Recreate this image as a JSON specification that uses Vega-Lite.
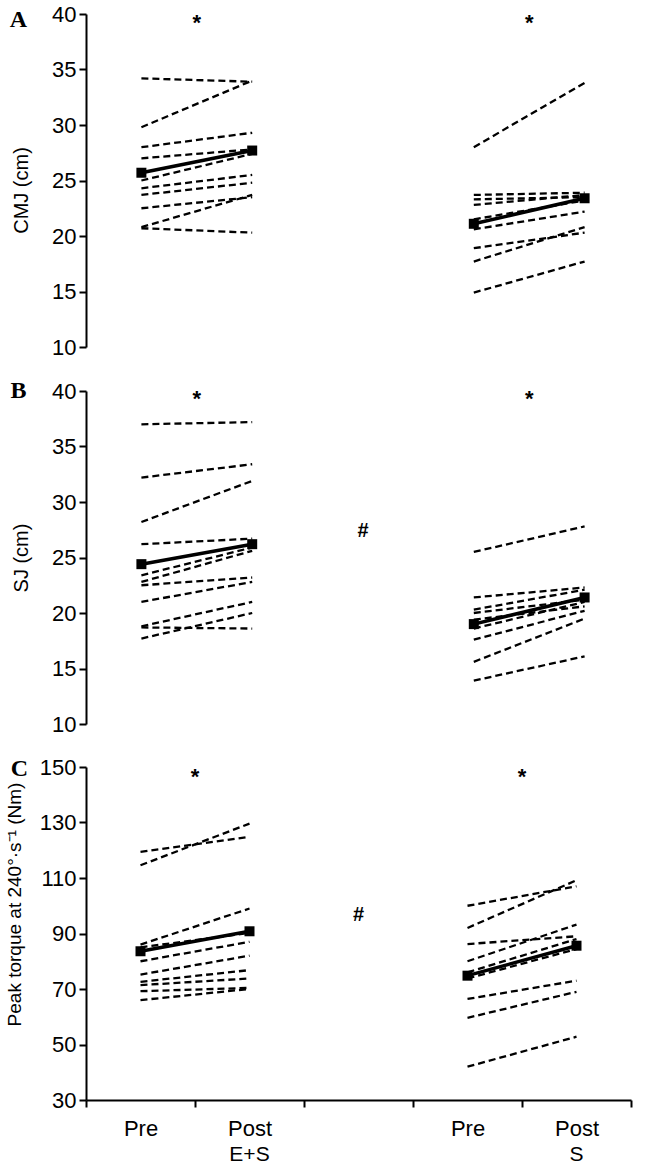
{
"$schema": "https://vega.github.io/schema/vega-lite/v6.json",
"background": "white",
"padding": {"left": 5, "top": 3, "right": 0, "bottom": 0},
"spacing": 21,
"datasets": {
"subj": [
{"p":"A","s":"e1","c":"E+S Pre","v":34.2},{"p":"A","s":"e1","c":"E+S Post","v":33.9},
{"p":"A","s":"e2","c":"E+S Pre","v":29.8},{"p":"A","s":"e2","c":"E+S Post","v":34.0},
{"p":"A","s":"e3","c":"E+S Pre","v":28.0},{"p":"A","s":"e3","c":"E+S Post","v":29.3},
{"p":"A","s":"e4","c":"E+S Pre","v":27.0},{"p":"A","s":"e4","c":"E+S Post","v":27.8},
{"p":"A","s":"e5","c":"E+S Pre","v":25.0},{"p":"A","s":"e5","c":"E+S Post","v":27.4},
{"p":"A","s":"e6","c":"E+S Pre","v":24.3},{"p":"A","s":"e6","c":"E+S Post","v":25.5},
{"p":"A","s":"e7","c":"E+S Pre","v":23.7},{"p":"A","s":"e7","c":"E+S Post","v":24.8},
{"p":"A","s":"e8","c":"E+S Pre","v":22.5},{"p":"A","s":"e8","c":"E+S Post","v":23.5},
{"p":"A","s":"e9","c":"E+S Pre","v":20.8},{"p":"A","s":"e9","c":"E+S Post","v":23.7},
{"p":"A","s":"e10","c":"E+S Pre","v":20.7},{"p":"A","s":"e10","c":"E+S Post","v":20.3},
{"p":"A","s":"s1","c":"S Pre","v":28.0},{"p":"A","s":"s1","c":"S Post","v":33.8},
{"p":"A","s":"s2","c":"S Pre","v":23.7},{"p":"A","s":"s2","c":"S Post","v":23.9},
{"p":"A","s":"s3","c":"S Pre","v":23.3},{"p":"A","s":"s3","c":"S Post","v":23.5},
{"p":"A","s":"s4","c":"S Pre","v":22.8},{"p":"A","s":"s4","c":"S Post","v":23.7},
{"p":"A","s":"s5","c":"S Pre","v":21.5},{"p":"A","s":"s5","c":"S Post","v":23.2},
{"p":"A","s":"s6","c":"S Pre","v":20.6},{"p":"A","s":"s6","c":"S Post","v":22.2},
{"p":"A","s":"s7","c":"S Pre","v":18.9},{"p":"A","s":"s7","c":"S Post","v":20.3},
{"p":"A","s":"s8","c":"S Pre","v":17.7},{"p":"A","s":"s8","c":"S Post","v":20.8},
{"p":"A","s":"s9","c":"S Pre","v":14.9},{"p":"A","s":"s9","c":"S Post","v":17.7},
{"p":"B","s":"e1","c":"E+S Pre","v":37.0},{"p":"B","s":"e1","c":"E+S Post","v":37.2},
{"p":"B","s":"e2","c":"E+S Pre","v":32.2},{"p":"B","s":"e2","c":"E+S Post","v":33.4},
{"p":"B","s":"e3","c":"E+S Pre","v":28.2},{"p":"B","s":"e3","c":"E+S Post","v":31.9},
{"p":"B","s":"e4","c":"E+S Pre","v":26.2},{"p":"B","s":"e4","c":"E+S Post","v":26.7},
{"p":"B","s":"e5","c":"E+S Pre","v":23.4},{"p":"B","s":"e5","c":"E+S Post","v":25.9},
{"p":"B","s":"e6","c":"E+S Pre","v":22.8},{"p":"B","s":"e6","c":"E+S Post","v":25.6},
{"p":"B","s":"e7","c":"E+S Pre","v":22.5},{"p":"B","s":"e7","c":"E+S Post","v":23.2},
{"p":"B","s":"e8","c":"E+S Pre","v":21.0},{"p":"B","s":"e8","c":"E+S Post","v":22.8},
{"p":"B","s":"e9","c":"E+S Pre","v":18.8},{"p":"B","s":"e9","c":"E+S Post","v":21.0},
{"p":"B","s":"e10","c":"E+S Pre","v":18.7},{"p":"B","s":"e10","c":"E+S Post","v":18.6},
{"p":"B","s":"e11","c":"E+S Pre","v":17.7},{"p":"B","s":"e11","c":"E+S Post","v":20.0},
{"p":"B","s":"s1","c":"S Pre","v":25.5},{"p":"B","s":"s1","c":"S Post","v":27.8},
{"p":"B","s":"s2","c":"S Pre","v":21.4},{"p":"B","s":"s2","c":"S Post","v":22.3},
{"p":"B","s":"s3","c":"S Pre","v":20.3},{"p":"B","s":"s3","c":"S Post","v":22.1},
{"p":"B","s":"s4","c":"S Pre","v":20.0},{"p":"B","s":"s4","c":"S Post","v":21.2},
{"p":"B","s":"s5","c":"S Pre","v":19.4},{"p":"B","s":"s5","c":"S Post","v":20.6},
{"p":"B","s":"s6","c":"S Pre","v":18.6},{"p":"B","s":"s6","c":"S Post","v":21.0},
{"p":"B","s":"s7","c":"S Pre","v":17.6},{"p":"B","s":"s7","c":"S Post","v":20.2},
{"p":"B","s":"s8","c":"S Pre","v":15.6},{"p":"B","s":"s8","c":"S Post","v":19.5},
{"p":"B","s":"s9","c":"S Pre","v":13.9},{"p":"B","s":"s9","c":"S Post","v":16.1},
{"p":"C","s":"e1","c":"E+S Pre","v":119.4},{"p":"C","s":"e1","c":"E+S Post","v":124.8},
{"p":"C","s":"e2","c":"E+S Pre","v":114.6},{"p":"C","s":"e2","c":"E+S Post","v":129.6},
{"p":"C","s":"e3","c":"E+S Pre","v":86.0},{"p":"C","s":"e3","c":"E+S Post","v":99.0},
{"p":"C","s":"e4","c":"E+S Pre","v":85.0},{"p":"C","s":"e4","c":"E+S Post","v":90.2},
{"p":"C","s":"e5","c":"E+S Pre","v":80.0},{"p":"C","s":"e5","c":"E+S Post","v":87.0},
{"p":"C","s":"e6","c":"E+S Pre","v":75.2},{"p":"C","s":"e6","c":"E+S Post","v":82.0},
{"p":"C","s":"e7","c":"E+S Pre","v":72.6},{"p":"C","s":"e7","c":"E+S Post","v":76.8},
{"p":"C","s":"e8","c":"E+S Pre","v":71.4},{"p":"C","s":"e8","c":"E+S Post","v":73.8},
{"p":"C","s":"e9","c":"E+S Pre","v":69.2},{"p":"C","s":"e9","c":"E+S Post","v":70.4},
{"p":"C","s":"e10","c":"E+S Pre","v":66.0},{"p":"C","s":"e10","c":"E+S Post","v":70.0},
{"p":"C","s":"s1","c":"S Pre","v":100.0},{"p":"C","s":"s1","c":"S Post","v":107.0},
{"p":"C","s":"s2","c":"S Pre","v":92.0},{"p":"C","s":"s2","c":"S Post","v":109.2},
{"p":"C","s":"s3","c":"S Pre","v":86.2},{"p":"C","s":"s3","c":"S Post","v":89.0},
{"p":"C","s":"s4","c":"S Pre","v":80.0},{"p":"C","s":"s4","c":"S Post","v":93.2},
{"p":"C","s":"s5","c":"S Pre","v":76.0},{"p":"C","s":"s5","c":"S Post","v":88.0},
{"p":"C","s":"s6","c":"S Pre","v":73.8},{"p":"C","s":"s6","c":"S Post","v":84.4},
{"p":"C","s":"s7","c":"S Pre","v":66.4},{"p":"C","s":"s7","c":"S Post","v":73.0},
{"p":"C","s":"s8","c":"S Pre","v":59.6},{"p":"C","s":"s8","c":"S Post","v":69.0},
{"p":"C","s":"s9","c":"S Pre","v":42.0},{"p":"C","s":"s9","c":"S Post","v":52.8}
],
"means": [
{"p":"A","g":"E+S","c":"E+S Pre","v":25.7},{"p":"A","g":"E+S","c":"E+S Post","v":27.7},
{"p":"A","g":"S","c":"S Pre","v":21.1},{"p":"A","g":"S","c":"S Post","v":23.4},
{"p":"B","g":"E+S","c":"E+S Pre","v":24.4},{"p":"B","g":"E+S","c":"E+S Post","v":26.2},
{"p":"B","g":"S","c":"S Pre","v":19.0},{"p":"B","g":"S","c":"S Post","v":21.4},
{"p":"C","g":"E+S","c":"E+S Pre","v":83.6},{"p":"C","g":"E+S","c":"E+S Post","v":90.8},
{"p":"C","g":"S","c":"S Pre","v":74.8},{"p":"C","g":"S","c":"S Post","v":85.6}
],
"notes": [
{"p":"A","k":"star","c":"E+S Post","t":"*","v":39.2},
{"p":"A","k":"star","c":"S Post","t":"*","v":39.2},
{"p":"A","k":"letter","c":"E+S Pre","t":"A","v":39.5},
{"p":"B","k":"star","c":"E+S Post","t":"*","v":39.3},
{"p":"B","k":"star","c":"S Post","t":"*","v":39.3},
{"p":"B","k":"hash","c":"gap","t":"#","v":27.4},
{"p":"B","k":"letter","c":"E+S Pre","t":"B","v":40.0},
{"p":"C","k":"star","c":"E+S Post","t":"*","v":146.4},
{"p":"C","k":"star","c":"S Post","t":"*","v":146.4},
{"p":"C","k":"hash","c":"gap","t":"#","v":96.7},
{"p":"C","k":"letter","c":"E+S Pre","t":"C","v":149.3}
]
},
"vconcat": [
{
"width": 554, "height": 333,
"encoding": {"y": {"field": "v", "type": "quantitative", "scale": {"domain": [10, 40], "nice": false, "zero": false}, "axis": {"values": [10,15,20,25,30,35,40], "title": "CMJ (cm)", "titlePadding": 20, "titleY": 176}}},
"layer": [
{"data": {"name": "subj"}, "transform": [{"filter": "datum.p==='A'"}],
 "mark": {"type": "line", "color": "black", "strokeWidth": 2.3, "strokeDash": [7,4]},
 "encoding": {"x": {"field": "c", "type": "nominal", "bandPosition": 0.5, "scale": {"type": "band", "domain": ["E+S Pre","E+S Post","gap","S Pre","S Post"], "paddingInner": 0, "paddingOuter": 0}, "axis": {"title": null, "labels": false, "tickBand": "extent"}}, "detail": {"field": "s"}}},
{"data": {"name": "means"}, "transform": [{"filter": "datum.p==='A'"}],
 "mark": {"type": "line", "color": "black", "strokeWidth": 3.5},
 "encoding": {"x": {"field": "c", "type": "nominal", "bandPosition": 0.5, "axis": null}, "detail": {"field": "g"}}},
{"data": {"name": "means"}, "transform": [{"filter": "datum.p==='A'"}],
 "mark": {"type": "square", "color": "black", "size": 100, "opacity": 1},
 "encoding": {"x": {"field": "c", "type": "nominal", "bandPosition": 0.5, "axis": null}}},
{"data": {"name": "notes"}, "transform": [{"filter": "datum.p==='A' && datum.k==='star'"}],
 "mark": {"type": "text", "font": "Liberation Sans", "fontSize": 22, "fontWeight": "bold", "baseline": "middle", "color": "black"},
 "encoding": {"x": {"field": "c", "type": "nominal", "bandPosition": 0, "axis": null}, "text": {"field": "t"}}},
{"data": {"name": "notes"}, "transform": [{"filter": "datum.p==='A' && datum.k==='letter'"}],
 "mark": {"type": "text", "font": "Liberation Serif", "fontWeight": "bold", "fontSize": 24, "baseline": "middle", "color": "black"},
 "encoding": {"x": {"field": "c", "type": "nominal", "bandPosition": -0.61, "axis": null}, "text": {"field": "t"}}}
]
},
{
"width": 554, "height": 333,
"encoding": {"y": {"field": "v", "type": "quantitative", "scale": {"domain": [10, 40], "nice": false, "zero": false}, "axis": {"values": [10,15,20,25,30,35,40], "title": "SJ (cm)", "titlePadding": 20}}},
"layer": [
{"data": {"name": "subj"}, "transform": [{"filter": "datum.p==='B'"}],
 "mark": {"type": "line", "color": "black", "strokeWidth": 2.3, "strokeDash": [7,4]},
 "encoding": {"x": {"field": "c", "type": "nominal", "bandPosition": 0.5, "scale": {"type": "band", "domain": ["E+S Pre","E+S Post","gap","S Pre","S Post"], "paddingInner": 0, "paddingOuter": 0}, "axis": {"title": null, "labels": false, "tickBand": "extent"}}, "detail": {"field": "s"}}},
{"data": {"name": "means"}, "transform": [{"filter": "datum.p==='B'"}],
 "mark": {"type": "line", "color": "black", "strokeWidth": 3.5},
 "encoding": {"x": {"field": "c", "type": "nominal", "bandPosition": 0.5, "axis": null}, "detail": {"field": "g"}}},
{"data": {"name": "means"}, "transform": [{"filter": "datum.p==='B'"}],
 "mark": {"type": "square", "color": "black", "size": 100, "opacity": 1},
 "encoding": {"x": {"field": "c", "type": "nominal", "bandPosition": 0.5, "axis": null}}},
{"data": {"name": "notes"}, "transform": [{"filter": "datum.p==='B' && datum.k==='star'"}],
 "mark": {"type": "text", "font": "Liberation Sans", "fontSize": 22, "fontWeight": "bold", "baseline": "middle", "color": "black"},
 "encoding": {"x": {"field": "c", "type": "nominal", "bandPosition": 0, "axis": null}, "text": {"field": "t"}}},
{"data": {"name": "notes"}, "transform": [{"filter": "datum.p==='B' && datum.k==='hash'"}],
 "mark": {"type": "text", "font": "Liberation Sans", "fontWeight": "bold", "fontSize": 20, "baseline": "middle", "color": "black"},
 "encoding": {"x": {"field": "c", "type": "nominal", "bandPosition": 0.5, "axis": null}, "text": {"field": "t"}}},
{"data": {"name": "notes"}, "transform": [{"filter": "datum.p==='B' && datum.k==='letter'"}],
 "mark": {"type": "text", "font": "Liberation Serif", "fontWeight": "bold", "fontSize": 24, "baseline": "middle", "color": "black"},
 "encoding": {"x": {"field": "c", "type": "nominal", "bandPosition": -0.61, "axis": null}, "text": {"field": "t"}}}
]
},
{
"width": 545, "height": 333,
"resolve": {"axis": {"x": "independent"}},
"encoding": {"y": {"field": "v", "type": "quantitative", "scale": {"domain": [30, 150], "nice": false, "zero": false}, "axis": {"values": [30,50,70,90,110,130,150], "title": "Peak torque at 240°·s⁻¹ (Nm)", "titlePadding": 15, "titleY": 137, "titleFontSize": 19}}},
"layer": [
{"data": {"name": "subj"}, "transform": [{"filter": "datum.p==='C'"}],
 "mark": {"type": "line", "color": "black", "strokeWidth": 2.3, "strokeDash": [7,4]},
 "encoding": {"x": {"field": "c", "type": "nominal", "bandPosition": 0.5, "scale": {"type": "band", "domain": ["E+S Pre","E+S Post","gap","S Pre","S Post"], "paddingInner": 0, "paddingOuter": 0}, "axis": {"title": null, "tickBand": "extent", "labelExpr": "datum.value === 'gap' ? '' : split(datum.value, ' ')[1]", "labelFontSize": 22, "labelPadding": 11, "labelOverlap": false, "labelFlush": false, "labelAngle": 0}}, "detail": {"field": "s"}}},
{"data": {"name": "means"}, "transform": [{"filter": "datum.p==='C'"}],
 "mark": {"type": "line", "color": "black", "strokeWidth": 3.5},
 "encoding": {"x": {"field": "c", "type": "nominal", "bandPosition": 0.5, "axis": null}, "detail": {"field": "g"}}},
{"data": {"name": "means"}, "transform": [{"filter": "datum.p==='C'"}],
 "mark": {"type": "square", "color": "black", "size": 100, "opacity": 1},
 "encoding": {"x": {"field": "c", "type": "nominal", "bandPosition": 0.5, "axis": null}}},
{"data": {"name": "notes"}, "transform": [{"filter": "datum.p==='C' && datum.k==='star'"}],
 "mark": {"type": "text", "font": "Liberation Sans", "fontSize": 22, "fontWeight": "bold", "baseline": "middle", "color": "black"},
 "encoding": {"x": {"field": "c", "type": "nominal", "bandPosition": 0, "axis": null}, "text": {"field": "t"}}},
{"data": {"name": "notes"}, "transform": [{"filter": "datum.p==='C' && datum.k==='hash'"}],
 "mark": {"type": "text", "font": "Liberation Sans", "fontWeight": "bold", "fontSize": 20, "baseline": "middle", "color": "black"},
 "encoding": {"x": {"field": "c", "type": "nominal", "bandPosition": 0.5, "axis": {"orient": "bottom", "title": null, "domain": false, "ticks": false, "tickSize": 0, "values": ["E+S Post", "S Post"], "bandPosition": 0, "labelExpr": "datum.value === 'E+S Post' ? 'E+S' : 'S'", "labelFontSize": 21, "labelPadding": 43, "labelOverlap": false, "labelFlush": false, "labelAngle": 0}}, "text": {"field": "t"}}},
{"data": {"name": "notes"}, "transform": [{"filter": "datum.p==='C' && datum.k==='letter'"}],
 "mark": {"type": "text", "font": "Liberation Serif", "fontWeight": "bold", "fontSize": 24, "baseline": "middle", "color": "black"},
 "encoding": {"x": {"field": "c", "type": "nominal", "bandPosition": -0.61, "axis": null}, "text": {"field": "t"}}}
]
}
],
"config": {
 "view": {"stroke": null},
 "axis": {"domainColor": "black", "domainWidth": 2, "tickColor": "black", "tickWidth": 2, "tickSize": 7, "labelColor": "black", "titleColor": "black", "labelFont": "Liberation Sans", "titleFont": "Liberation Sans", "labelFontSize": 22, "titleFontSize": 20, "titleFontWeight": "normal", "labelPadding": 3, "grid": false}
}
}
